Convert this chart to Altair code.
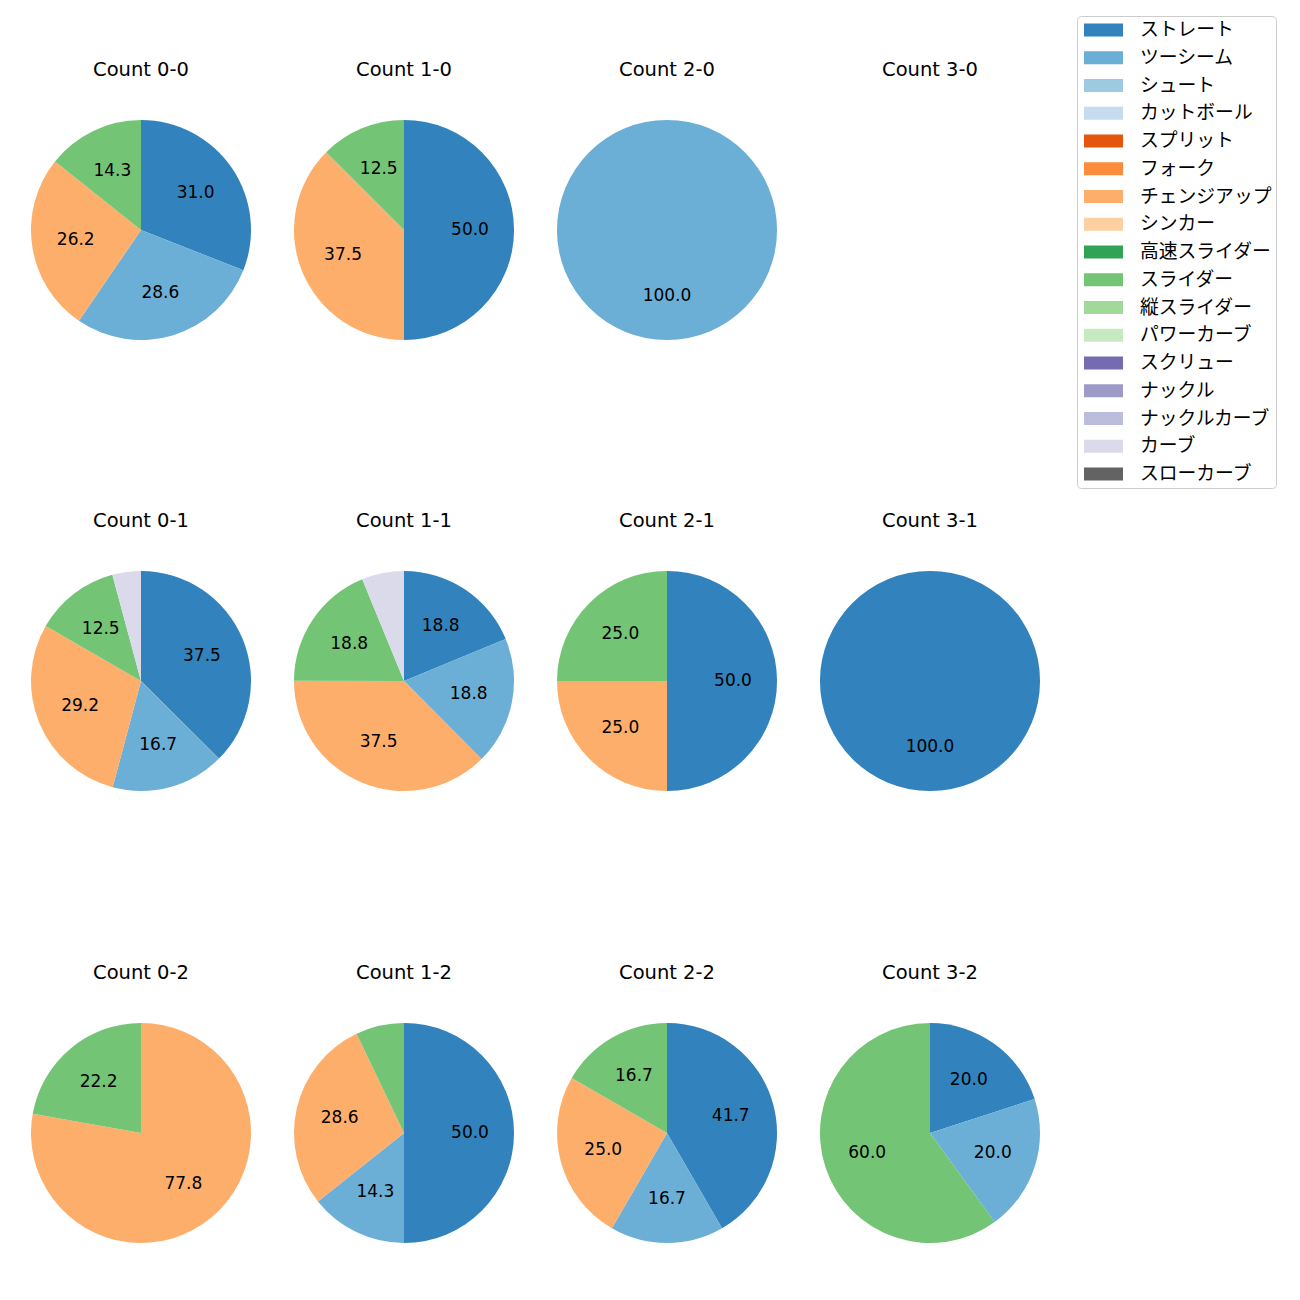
import altair as alt
import pandas as pd

FONT = "DejaVu Sans"
CJK_FONT = "Noto Sans CJK JP"

pitch_types = ["ストレート", "ツーシーム", "シュート", "カットボール", "スプリット", "フォーク",
               "チェンジアップ", "シンカー", "高速スライダー", "スライダー", "縦スライダー",
               "パワーカーブ", "スクリュー", "ナックル", "ナックルカーブ", "カーブ", "スローカーブ"]
pitch_colors = ["#3182bd", "#6baed6", "#9ecae1", "#c6dbef", "#e6550d", "#fd8d3c",
                "#fdae6b", "#fdd0a2", "#31a354", "#74c476", "#a1d99b", "#c7e9c0",
                "#756bb1", "#9e9ac8", "#bcbddc", "#dadaeb", "#636363"]

count_labels = ["0-0", "1-0", "2-0", "3-0",
                "0-1", "1-1", "2-1", "3-1",
                "0-2", "1-2", "2-2", "3-2"]

# pitch shares (percent) per count
p_0_0 = ["ストレート", "ツーシーム", "チェンジアップ", "スライダー"]
v_0_0 = [31.0, 28.6, 26.2, 14.3]
p_1_0 = ["ストレート", "チェンジアップ", "スライダー"]
v_1_0 = [50.0, 37.5, 12.5]
p_2_0 = ["ツーシーム"]
v_2_0 = [100.0]
p_3_0 = []
v_3_0 = []
p_0_1 = ["ストレート", "ツーシーム", "チェンジアップ", "スライダー", "カーブ"]
v_0_1 = [37.5, 16.7, 29.2, 12.5, 4.2]
p_1_1 = ["ストレート", "ツーシーム", "チェンジアップ", "スライダー", "カーブ"]
v_1_1 = [18.8, 18.8, 37.5, 18.8, 6.2]
p_2_1 = ["ストレート", "チェンジアップ", "スライダー"]
v_2_1 = [50.0, 25.0, 25.0]
p_3_1 = ["ストレート"]
v_3_1 = [100.0]
p_0_2 = ["チェンジアップ", "スライダー"]
v_0_2 = [77.8, 22.2]
p_1_2 = ["ストレート", "ツーシーム", "チェンジアップ", "スライダー"]
v_1_2 = [50.0, 14.3, 28.6, 7.1]
p_2_2 = ["ストレート", "ツーシーム", "チェンジアップ", "スライダー"]
v_2_2 = [41.7, 16.7, 25.0, 16.7]
p_3_2 = ["ストレート", "ツーシーム", "スライダー"]
v_3_2 = [20.0, 20.0, 60.0]

panels = {
    "0-0": (p_0_0, v_0_0), "1-0": (p_1_0, v_1_0), "2-0": (p_2_0, v_2_0), "3-0": (p_3_0, v_3_0),
    "0-1": (p_0_1, v_0_1), "1-1": (p_1_1, v_1_1), "2-1": (p_2_1, v_2_1), "3-1": (p_3_1, v_3_1),
    "0-2": (p_0_2, v_0_2), "1-2": (p_1_2, v_1_2), "2-2": (p_2_2, v_2_2), "3-2": (p_3_2, v_3_2),
}

rows = []
for c, (ps, vs) in panels.items():
    for p, v in zip(ps, vs):
        rows.append({"cnt": c, "pitch": p, "pct": v,
                     "ord": pitch_types.index(p),
                     "label": f"{v:.1f}" if v >= 10 else ""})
df = pd.DataFrame(rows)

R = 110
color_enc = alt.Color(
    "pitch:N",
    scale=alt.Scale(domain=pitch_types, range=pitch_colors),
    legend=alt.Legend(
        title=None, orient="none", legendX=1046, legendY=-104,
        symbolType="M-1,-0.3333L1,-0.3333L1,0.3333L-1,0.3333Z",
        symbolSize=1521, symbolStrokeWidth=0, symbolOpacity=1,
        symbolOffset=3, clipHeight=20,
        labelFont=CJK_FONT, labelFontSize=18.8, labelColor="black",
        labelOffset=17, rowPadding=7.75, padding=4, labelLimit=400,
        strokeColor="#cccccc", fillColor="white", cornerRadius=4,
    ),
)


def panel(c):
    base = alt.Chart(df).transform_filter(alt.datum.cnt == c)
    arc = base.mark_arc(outerRadius=R).encode(
        theta=alt.Theta("pct:Q", stack=True),
        color=color_enc,
        order=alt.Order("ord:Q"),
    )
    txt = base.mark_text(radius=0.6 * R, font=FONT, fontSize=17, color="black").encode(
        theta=alt.Theta("pct:Q", stack=True),
        order=alt.Order("ord:Q"),
        text="label:N",
    )
    return alt.layer(arc, txt).properties(
        width=2 * R, height=2 * R,
        title=alt.TitleParams(text=f"Count {c}", font=FONT, fontSize=19.5,
                              fontWeight="normal", color="black", offset=40),
    )


grid_rows = []
for r in range(3):
    grid_rows.append(alt.hconcat(*[panel(count_labels[r * 4 + k]) for k in range(4)], spacing=43))

top_two = alt.vconcat(grid_rows[0], grid_rows[1], spacing=170)
chart = alt.vconcat(top_two, grid_rows[2], spacing=171).properties(
    padding={"left": 23, "top": 7, "right": 5, "bottom": 5}
).configure_view(stroke=None)

chart.save("out.html", embed_options={"renderer": "svg", "actions": False})
